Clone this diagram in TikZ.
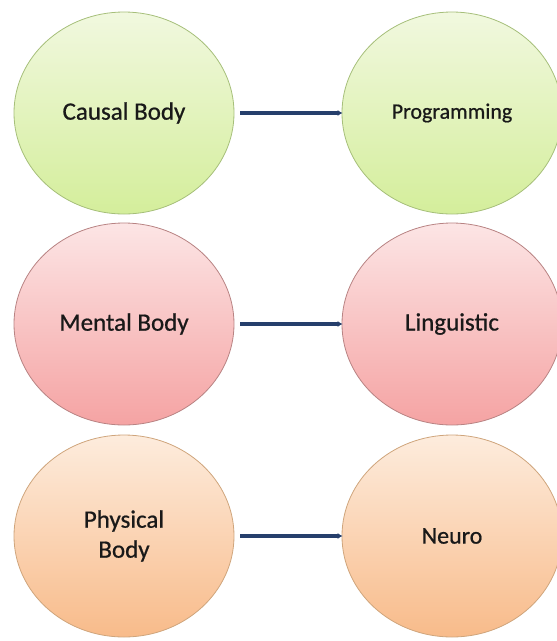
\documentclass[tikz,border=0pt]{standalone}
\usepackage{fontspec}
\setmainfont{Carlito}[UprightFeatures={FakeBold=0.7}]
\usepackage{tikz}
\usetikzlibrary{positioning,shapes.geometric,arrows.meta}
\usepackage{xcolor}

\definecolor{greentop}{HTML}{F1F8DF}
\definecolor{greenbot}{HTML}{D4EE9B}
\definecolor{greenline}{HTML}{A6BF7A}
\definecolor{pinktop}{HTML}{FCE5E5}
\definecolor{pinkbot}{HTML}{F5A3A3}
\definecolor{pinkline}{HTML}{B88383}
\definecolor{orangetop}{HTML}{FDECDD}
\definecolor{orangebot}{HTML}{F8BB8A}
\definecolor{orangeline}{HTML}{CFA57C}
\definecolor{arrowblue}{HTML}{263F6C}

\tikzset{
  body/.style={ellipse,minimum width=220pt,minimum height=202pt,inner sep=0pt,
    line width=0.8pt,text=black!90,font=\fontsize{25}{30}\selectfont,align=center},
  greenbody/.style={body,draw=greenline,top color=greentop,bottom color=greenbot},
  pinkbody/.style={body,draw=pinkline,top color=pinktop,bottom color=pinkbot},
  orangebody/.style={body,draw=orangeline,top color=orangetop,bottom color=orangebot},
  link/.style={arrowblue,line width=3.4pt,-{Latex[length=5pt,width=6pt]},shorten <=6pt,shorten >=-1pt}
}

\begin{document}
\begin{tikzpicture}[x=1pt,y=-1pt]
\useasboundingbox (0,0) rectangle (557,641);

\node[greenbody] (causal) at (124,113) {Causal Body};
\node[greenbody,font=\fontsize{22}{26}\selectfont] (prog) at (452,113) {Programming};

\node[pinkbody] (mental) at (124,324) {Mental Body};
\node[pinkbody] (ling) at (452,324) {Linguistic};

\node[orangebody] (physical) at (124,536) {Physical\\Body};
\node[orangebody,font=\fontsize{24}{29}\selectfont] (neuro) at (452,536) {Neuro};

\draw [link] (causal) -- (prog);
\draw [link] (mental) -- (ling);
\draw [link] (physical) -- (neuro);
\end{tikzpicture}
\end{document}
